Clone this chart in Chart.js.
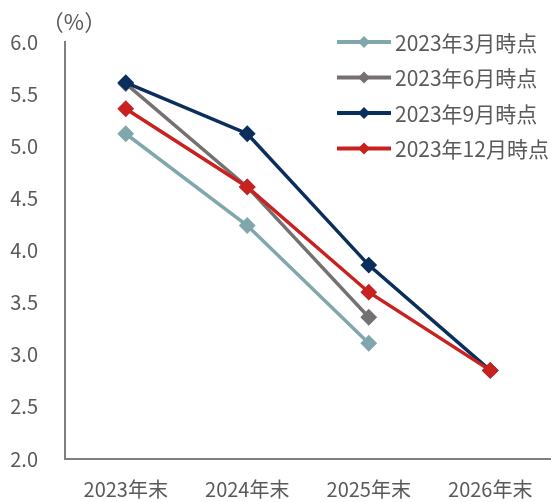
<!DOCTYPE html>
<html lang="ja">
<head>
<meta charset="utf-8">
<title>見通しの推移</title>
<script src="https://cdn.jsdelivr.net/npm/chart.js@4.4.1/dist/chart.umd.min.js"></script>
<style>
  html, body { margin: 0; padding: 0; background: #fff; }
  #wrap { width: 551px; height: 502px; }
</style>
</head>
<body>
<div id="wrap"><canvas id="myChart" width="551" height="502"></canvas></div>
<script>
// 見通し（%）
var years = ['2023年末', '2024年末', '2025年末', '2026年末'];
var mar2023 = [5.12, 4.24, 3.11, null];
var jun2023 = [5.60, 4.61, 3.36, null];
var sep2023 = [5.61, 5.12, 3.86, 2.85];
var dec2023 = [5.36, 4.61, 3.60, 2.85];

var yTicks = { min: 2.0, max: 6.0, step: 0.5 };

var textColor = '#595959';
var axisColor = '#7f7f7f';
var fontFamily = '"Noto Sans CJK JP", "Noto Sans", sans-serif';

function series(label, data, color, order) {
	return {
		label: label,
		data: data,
		borderColor: color,
		backgroundColor: color,
		pointBackgroundColor: color,
		pointBorderColor: color,
		borderWidth: 3.5,
		pointStyle: 'rectRot',
		pointRadius: 7,
		pointHoverRadius: 7,
		pointBorderWidth: 2,
		tension: 0,
		spanGaps: false,
		order: order
	};
}

// 凡例と単位は自前で描く
var legendPlugin = {
	id: 'sideLegend',
	afterDraw: function(chart) {
		var ctx = chart.ctx;
		ctx.save();
		ctx.font = '22px ' + fontFamily;
		ctx.fillStyle = textColor;
		ctx.textBaseline = 'middle';
		ctx.textAlign = 'center';
		ctx.fillText('（%）', 74, 22);

		ctx.font = '21px ' + fontFamily;
		ctx.textAlign = 'left';
		var ds = chart.data.datasets;
		for (var i = 0; i < ds.length; i++) {
			var y = 42 + i * 35.5;
			ctx.strokeStyle = ds[i].borderColor;
			ctx.lineWidth = 4;
			ctx.beginPath();
			ctx.moveTo(337, y);
			ctx.lineTo(391, y);
			ctx.stroke();
			ctx.fillStyle = ds[i].borderColor;
			ctx.beginPath();
			ctx.moveTo(364 - 6, y);
			ctx.lineTo(364, y - 6);
			ctx.lineTo(364 + 6, y);
			ctx.lineTo(364, y + 6);
			ctx.closePath();
			ctx.fill();
			ctx.fillStyle = textColor;
			ctx.fillText(ds[i].label, 395, y + 1);
		}
		ctx.restore();
	}
};

var ctx = document.getElementById('myChart');

var chart = new Chart(ctx, {
	type: 'line',
	data: {
		labels: years,
		datasets: [
			series('2023年3月時点', mar2023, '#7fa7ac', 3),
			series('2023年6月時点', jun2023, '#767171', 2),
			series('2023年9月時点', sep2023, '#0b2f5c', 1),
			series('2023年12月時点', dec2023, '#c8211f', 0)
		]
	},
	options: {
		responsive: false,
		animation: false,
		layout: {
			autoPadding: false,
			padding: { top: 42, right: 0, bottom: 0, left: 0 }
		},
		plugins: {
			legend: { display: false },
			tooltip: { enabled: false }
		},
		scales: {
			x: {
				offset: true,
				grid: { display: false, drawTicks: false },
				border: { display: true, color: axisColor, width: 2 },
				ticks: {
					color: textColor,
					font: { family: fontFamily, size: 20 },
					padding: 18,
					maxRotation: 0
				},
				afterFit: function(scale) {
					scale.height = 43;
					scale.paddingLeft = 0;
					scale.paddingRight = 0;
				}
			},
			y: {
				min: yTicks.min,
				max: yTicks.max,
				grid: { display: false, drawTicks: false },
				border: { display: true, color: axisColor, width: 2 },
				ticks: {
					stepSize: yTicks.step,
					color: textColor,
					font: { family: fontFamily, size: 20 },
					padding: 27,
					callback: function(v) { return v.toFixed(1); }
				},
				afterFit: function(scale) { scale.width = 65; }
			}
		}
	},
	plugins: [legendPlugin]
});
</script>
</body>
</html>
